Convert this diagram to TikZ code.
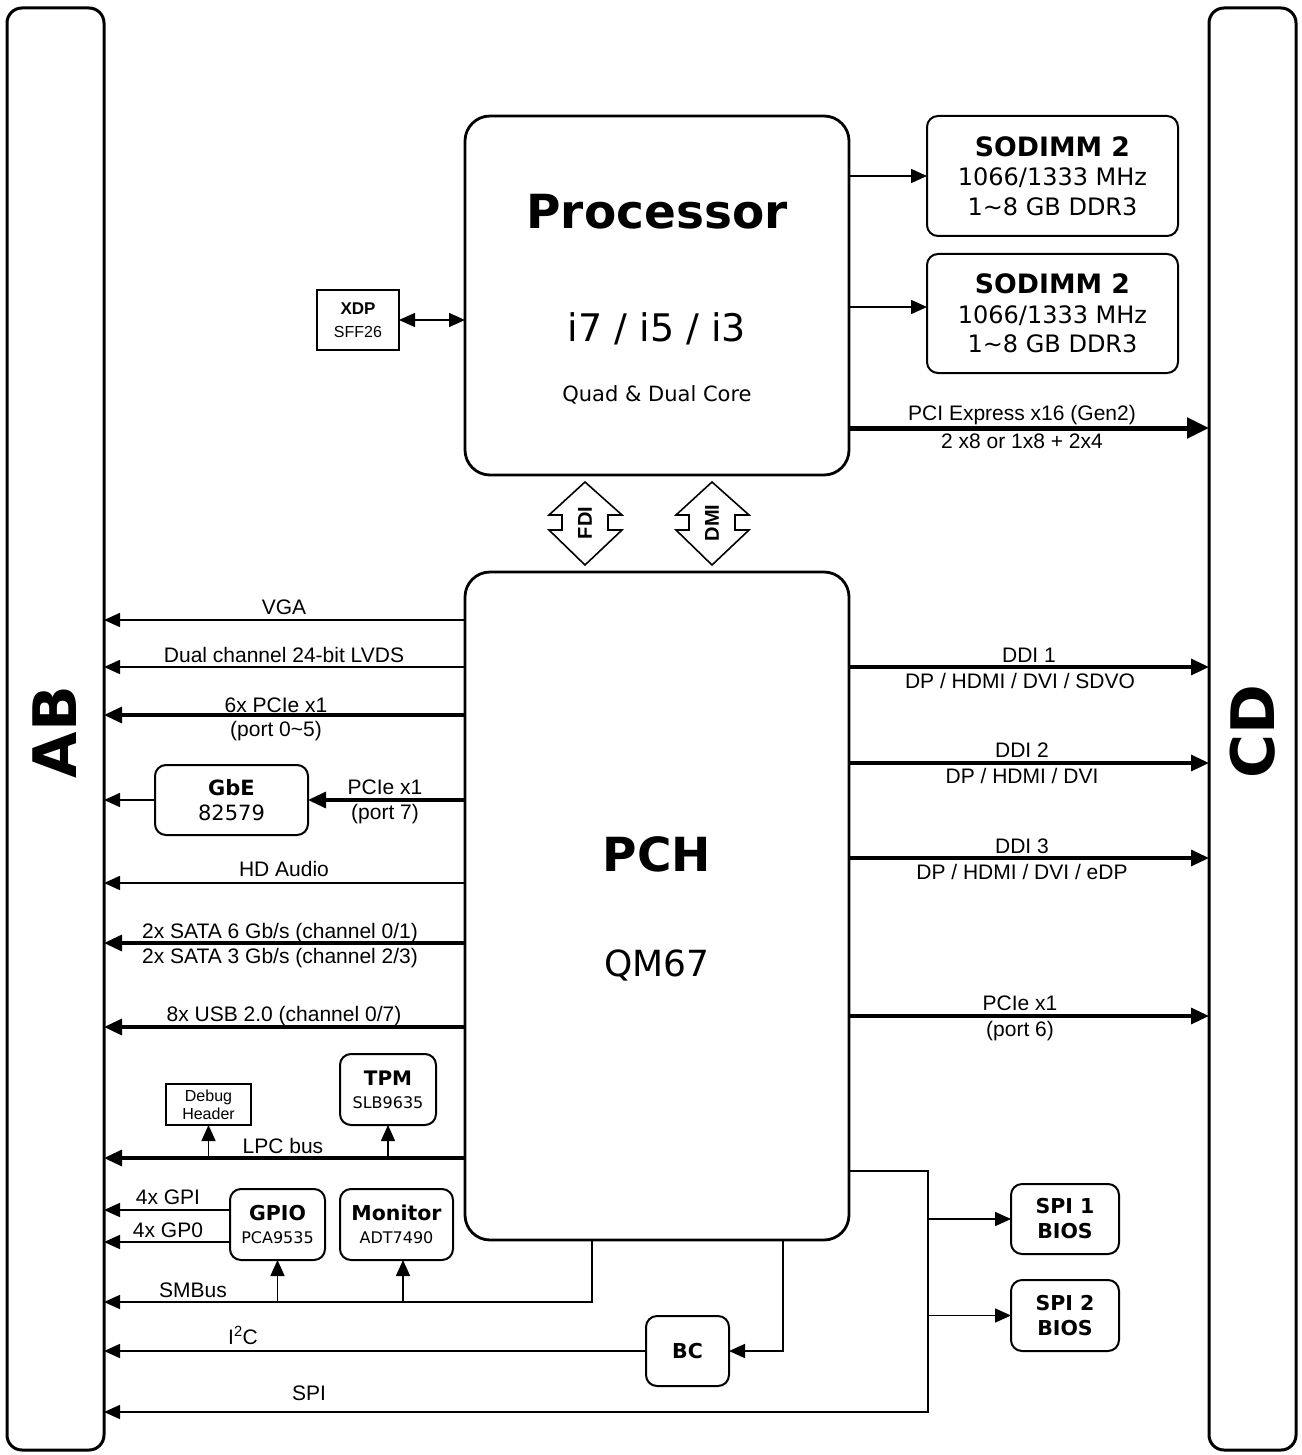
\documentclass[tikz,border=0pt]{standalone}
\usepackage{fontspec}
\setmainfont{Liberation Sans}
\newfontfamily\verd{DejaVu Sans}
\usetikzlibrary{arrows.meta}
\tikzset{
  rail/.style     = {draw, line width=3pt, rounded corners=15pt, inner sep=0pt, outer sep=0pt},
  chip/.style     = {draw, line width=2.8pt, rounded corners=25pt, inner sep=0pt, outer sep=0pt},
  part/.style     = {draw, line width=2pt, rounded corners=11pt, inner sep=0pt, outer sep=0pt, align=center},
  header/.style   = {draw, line width=1.8pt, inner sep=0pt, outer sep=0pt, align=center},
  lbl/.style      = {font=\fontsize{21}{25}\selectfont, inner sep=0pt, text height=15pt, text depth=0pt},
  chiptext/.style = {anchor=base, inner sep=0pt},
  railname/.style = {font=\verd\bfseries\fontsize{60}{60}\selectfont, rotate=90, inner sep=0pt},
  linkname/.style = {font=\bfseries\fontsize{20}{20}\selectfont, rotate=90, inner sep=0pt},
  wire/.style     = {draw, line width=1.6pt},
  thinbus/.style  = {draw, line width=1.6pt, -{Triangle[length=16pt,width=14pt]}},
  widebus/.style  = {draw, line width=3.2pt, -{Triangle[length=18pt,width=16pt]}},
  x16bus/.style   = {draw, line width=5pt, -{Triangle[length=22pt,width=20pt]}},
  duplex/.pic     = {
    \draw[line width=1.6pt, line join=miter]
      (0,-41) -- (37,-8) -- (23,-8) -- (23,7) -- (37,7) -- (0,42)
      -- (-36,7) -- (-23,7) -- (-23,-8) -- (-36,-8) -- cycle;
  },
}
\begin{document}
\begin{tikzpicture}[x=1pt,y=-1pt]
\fill[white] (0,0) rectangle (1301,1455);

% ---------- the two rails -----------------------------------------------
\node[rail, minimum width=97pt, minimum height=1442pt] (AB) at (55.5,729) {};
\node[rail, minimum width=87pt, minimum height=1442pt] (CD) at (1252.5,729) {};
\node[railname] (ABname) at (55,732) {AB};
\node[railname] (CDname) at (1253,732) {CD};

% ---------- processor and memory ----------------------------------------
\node[chip, minimum width=384pt, minimum height=359pt] (proc) at (657,295.5) {};
\node[chiptext, font=\verd\bfseries\fontsize{47}{50}\selectfont] (procname) at (657,229) {Processor};
\node[chiptext, font=\verd\fontsize{38}{40}\selectfont] (procsku) at (657,341) {i7 / i5 / i3};
\node[chiptext, font=\verd\fontsize{21}{24}\selectfont] (proccore) at (657,401) {Quad \& Dual Core};

\node[part, minimum width=251pt, minimum height=120pt, font=\verd\fontsize{24}{29.5}\selectfont]
  (dimmA) at (1052.5,176)
  {{\fontsize{26.7}{29.5}\selectfont\textbf{SODIMM 2}}\\1066/1333 MHz\\1\textasciitilde8 GB DDR3};
\node[part, minimum width=251pt, minimum height=119pt, font=\verd\fontsize{24}{29.5}\selectfont]
  (dimmB) at (1052.5,313.5)
  {{\fontsize{26.7}{29.5}\selectfont\textbf{SODIMM 2}}\\1066/1333 MHz\\1\textasciitilde8 GB DDR3};
\draw[thinbus] (proc.east |- dimmA.west) -- (dimmA.west);
\draw[thinbus] (proc.east |- 0,307) -- (dimmB.west |- 0,307);

\node[header, minimum width=82pt, minimum height=60pt, font=\fontsize{16}{23}\selectfont]
  (xdp) at (358,320) {{\fontsize{17}{23}\selectfont\textbf{XDP}}\\SFF26};
\draw[thinbus, {Triangle[length=16pt,width=14pt]}-{Triangle[length=16pt,width=14pt]}]
  (xdp.east) -- (proc.west |- xdp.east);

\draw[x16bus] (proc.east |- 0,428) -- (CD.west |- 0,428);
\node[lbl] (x16top) at (1022,413) {PCI Express x16 (Gen2)};
\node[lbl] (x16bot) at (1022,441) {2 x8 or 1x8 + 2x4};

% ---------- links between the chips -------------------------------------
\pic (fdi) at (585,523) {duplex};
\pic (dmi) at (712,523) {duplex};
\node[linkname] (fdiname) at (585,523) {FDI};
\node[linkname] (dminame) at (712,523) {DMI};

% ---------- PCH ---------------------------------------------------------
\node[chip, minimum width=384pt, minimum height=668pt] (pch) at (657,906) {};
\node[chiptext, font=\verd\bfseries\fontsize{47}{50}\selectfont] (pchname) at (657,871) {PCH};
\node[chiptext, font=\verd\fontsize{36}{40}\selectfont] (pchsku) at (657,976) {QM67};

% ---------- left side: to AB --------------------------------------------
\draw[thinbus] (pch.west |- 0,620) -- (AB.east |- 0,620);
\node[lbl] (vga) at (284,607) {VGA};

\draw[thinbus] (pch.west |- 0,667) -- (AB.east |- 0,667);
\node[lbl] (lvds) at (284,655) {Dual channel 24-bit LVDS};

\draw[widebus] (pch.west |- 0,715) -- (AB.east |- 0,715);
\node[lbl] (pcieA) at (276,705) {6x PCIe x1};
\node[lbl] (pcieAport) at (276,729) {(port 0\textasciitilde5)};

\node[part, minimum width=153pt, minimum height=70pt, font=\verd\fontsize{21}{25}\selectfont]
  (gbe) at (231.5,800) {\textbf{GbE}\\82579};
\draw[widebus] (pch.west |- gbe.east) -- (gbe.east);
\draw[thinbus] (gbe.west) -- (AB.east |- gbe.west);
\node[lbl] (pcieB) at (385,787) {PCIe x1};
\node[lbl] (pcieBport) at (385,812) {(port 7)};

\draw[thinbus] (pch.west |- 0,883) -- (AB.east |- 0,883);
\node[lbl] (audio) at (284,869) {HD Audio};

\draw[widebus] (pch.west |- 0,943) -- (AB.east |- 0,943);
\node[lbl] (sataA) at (280,931) {2x SATA 6 Gb/s (channel 0/1)};
\node[lbl] (sataB) at (280,956) {2x SATA 3 Gb/s (channel 2/3)};

\draw[widebus] (pch.west |- 0,1027) -- (AB.east |- 0,1027);
\node[lbl] (usb) at (284,1014) {8x USB 2.0 (channel 0/7)};

% LPC and what hangs on it
\node[header, minimum width=85pt, minimum height=41pt, font=\fontsize{16}{18}\selectfont]
  (debug) at (208.5,1104.5) {Debug\\Header};
\node[part, minimum width=96pt, minimum height=71pt, font=\verd\fontsize{16}{23}\selectfont]
  (tpm) at (388,1089.5) {{\fontsize{20}{23}\selectfont\textbf{TPM}}\\SLB9635};
\draw[widebus] (pch.west |- 0,1158) -- (AB.east |- 0,1158);
\draw[thinbus] (debug.south |- 0,1158) -- (debug.south);
\draw[thinbus] (tpm.south |- 0,1158) -- (tpm.south);
\node[lbl] (lpc) at (283,1146) {LPC bus};

% SMBus devices
\node[part, minimum width=95pt, minimum height=71pt, font=\verd\fontsize{16}{23}\selectfont]
  (gpio) at (277.5,1224.5) {{\fontsize{20.5}{23}\selectfont\textbf{GPIO}}\\PCA9535};
\node[part, minimum width=113pt, minimum height=71pt, font=\verd\fontsize{16}{23}\selectfont]
  (monitor) at (396.5,1224.5) {{\fontsize{20.5}{23}\selectfont\textbf{Monitor}}\\ADT7490};
\draw[thinbus] (gpio.west |- 0,1210) -- (AB.east |- 0,1210);
\draw[thinbus] (gpio.west |- 0,1242) -- (AB.east |- 0,1242);
\node[lbl] (gpi) at (168,1197) {4x GPI};
\node[lbl] (gpo) at (168,1230) {4x GP0};

\coordinate (smbus) at (592,1302);
\draw[thinbus] (pch.south -| smbus) |- (AB.east |- smbus);
\draw[thinbus] (gpio.south |- smbus) -- (gpio.south);
\draw[thinbus] (403,1302) -- (monitor.south -| 403,0);
\node[lbl] (smbusname) at (193,1290) {SMBus};

% board controller
\node[part, minimum width=83pt, minimum height=70pt, font=\verd\bfseries\fontsize{20.5}{25}\selectfont]
  (bc) at (687.5,1351) {BC};
\draw[thinbus] (pch.south -| 783,0) |- (bc.east);
\draw[thinbus] (bc.west) -- (AB.east |- bc.west);
\node[lbl] (i2c) at (243,1337) {I\textsuperscript{2}C};

% ---------- SPI flash ---------------------------------------------------
\node[part, minimum width=108pt, minimum height=70pt, font=\verd\bfseries\fontsize{20.5}{25}\selectfont]
  (spiA) at (1065,1219) {SPI 1\\BIOS};
\node[part, minimum width=108pt, minimum height=71pt, font=\verd\bfseries\fontsize{20.5}{25}\selectfont]
  (spiB) at (1065,1315.5) {SPI 2\\BIOS};
\coordinate (spitap) at (928,1171);
\coordinate (spidrop) at (928,1412);
\draw[thinbus] (pch.east |- spitap) -- (spitap) -- (spidrop) -- (AB.east |- spidrop);
\draw[thinbus] (spitap |- spiA.west) -- (spiA.west);
\draw[thinbus] (spitap |- spiB.west) -- (spiB.west);
\node[lbl] (spiname) at (309,1393) {SPI};

% ---------- right side: to CD -------------------------------------------
\draw[widebus] (pch.east |- 0,667) -- (CD.west |- 0,667);
\node[lbl] (ddiA) at (1029,655) {DDI 1};
\node[lbl] (ddiAsig) at (1020,681) {DP / HDMI / DVI / SDVO};

\draw[widebus] (pch.east |- 0,763) -- (CD.west |- 0,763);
\node[lbl] (ddiB) at (1022,750) {DDI 2};
\node[lbl] (ddiBsig) at (1022,776) {DP / HDMI / DVI};

\draw[widebus] (pch.east |- 0,858) -- (CD.west |- 0,858);
\node[lbl] (ddiC) at (1022,846) {DDI 3};
\node[lbl] (ddiCsig) at (1022,872) {DP / HDMI / DVI / eDP};

\draw[widebus] (pch.east |- 0,1016) -- (CD.west |- 0,1016);
\node[lbl] (pcieC) at (1020,1003) {PCIe x1};
\node[lbl] (pcieCport) at (1020,1029) {(port 6)};

\end{tikzpicture}
\end{document}
